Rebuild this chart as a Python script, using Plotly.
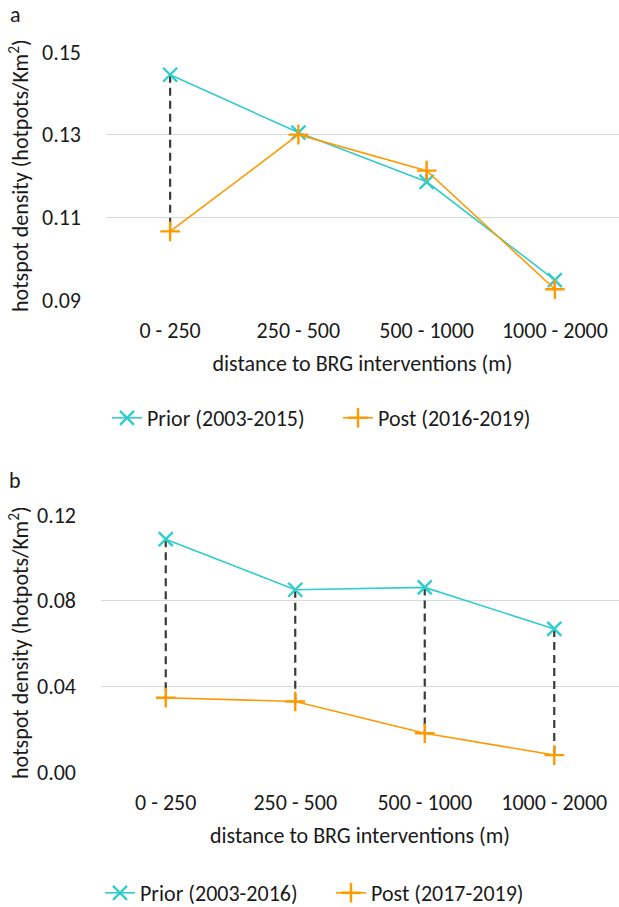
import plotly.graph_objects as go

categories = ["0 - 250", "250 - 500", "500 - 1000", "1000 - 2000"]

a_prior = [0.1445, 0.1305, 0.1186, 0.0948]
a_post = [0.1066, 0.1300, 0.1213, 0.0926]
a_names = ["Prior (2003-2015)", "Post (2016-2019)"]
a_ticks = [0.09, 0.11, 0.13, 0.15]

b_prior = [0.1087, 0.0851, 0.0862, 0.0668]
b_post = [0.0347, 0.0329, 0.0181, 0.0079]
b_names = ["Prior (2003-2016)", "Post (2017-2019)"]
b_ticks = [0.00, 0.04, 0.08, 0.12]

TEAL = "#33CCCC"
ORANGE = "#FF9900"
DASH = "#3a3a3a"
TXT = "#1a1a1a"
FONT = "Carlito, Lato, 'Open Sans', sans-serif"
FS = 22
W, H = 619, 907

fig = go.Figure()


def hilo(prior, post, xa, ya):
    xs, ys = [], []
    for c, p, q in zip(categories, prior, post):
        xs += [c, c, None]
        ys += [p, q, None]
    fig.add_trace(go.Scatter(x=xs, y=ys, mode="lines", xaxis=xa, yaxis=ya,
                             line=dict(color=DASH, width=2.2, dash="8px,5px"),
                             showlegend=False, hoverinfo="skip"))


def series(vals, name, color, symbol, xa, ya, legend):
    fig.add_trace(go.Scatter(x=categories, y=vals, name=name, mode="lines+markers",
                             xaxis=xa, yaxis=ya, legend=legend,
                             line=dict(color=color, width=1.6),
                             marker=dict(symbol=symbol, size=14,
                                         line=dict(color=color, width=2.4), color=color)))


hilo(a_prior, a_post, "x", "y")
series(a_prior, a_names[0], TEAL, "x-thin", "x", "y", "legend")
series(a_post, a_names[1], ORANGE, "cross-thin", "x", "y", "legend")

hilo(b_prior, b_post, "x2", "y2")
series(b_prior, b_names[0], TEAL, "x-thin", "x2", "y2", "legend2")
series(b_post, b_names[1], ORANGE, "cross-thin", "x2", "y2", "legend2")


def py(px):
    return 1 - px / H


axis_font = dict(family=FONT, size=FS, color=TXT)
title_font = dict(family=FONT, size=FS, color=TXT)

xcommon = dict(showgrid=False, showline=False, ticks="", tickfont=axis_font,
               range=[-0.5, 3.5], fixedrange=True, automargin=False, ticklabelstandoff=15,
               title=dict(text="distance to BRG interventions (m)", font=title_font, standoff=12))
ycommon = dict(showgrid=True, gridcolor="#D9D9D9", gridwidth=1.3, zeroline=False,
               showline=False, ticks="", tickfont=axis_font, fixedrange=True,
               automargin=False, ticklabelstandoff=24)

leg_common = dict(orientation="h", xanchor="left", yanchor="middle",
                  font=dict(family=FONT, size=FS, color=TXT), itemwidth=30,
                  entrywidth=186, entrywidthmode="pixels",
                  bgcolor="rgba(0,0,0,0)", traceorder="normal")

fig.update_layout(
    width=W, height=H,
    margin=dict(l=0, r=0, t=0, b=0, autoexpand=False),
    paper_bgcolor="white", plot_bgcolor="white",
    font=dict(family=FONT, size=FS, color=TXT),
    xaxis=dict(domain=[106 / W, 1.0], anchor="y", **xcommon),
    yaxis=dict(domain=[py(300), py(52)], anchor="x", range=[0.09, 0.15],
               tickvals=a_ticks, tickformat=".2f", **ycommon),
    xaxis2=dict(domain=[101 / W, 1.0], anchor="y2", **xcommon),
    yaxis2=dict(domain=[py(772), py(515)], anchor="x2", range=[0.0, 0.12],
                tickvals=b_ticks, tickformat=".2f", **ycommon),
    legend=dict(x=107 / W, y=py(418), **leg_common),
    legend2=dict(x=100 / W, y=py(893), **leg_common),
    annotations=[
        dict(text="a", x=15 / W, y=py(15), xref="paper", yref="paper", showarrow=False,
             xanchor="center", yanchor="middle", font=dict(family=FONT, size=FS, color=TXT)),
        dict(text="b", x=15 / W, y=py(480), xref="paper", yref="paper", showarrow=False,
             xanchor="center", yanchor="middle", font=dict(family=FONT, size=FS, color=TXT)),
        dict(text="hotspot density (hotpots/Km<sup>2</sup>)", x=19 / W, y=py(176),
             xref="paper", yref="paper", showarrow=False, textangle=-90,
             xanchor="center", yanchor="middle", font=title_font),
        dict(text="hotspot density (hotpots/Km<sup>2</sup>)", x=19 / W, y=py(643),
             xref="paper", yref="paper", showarrow=False, textangle=-90,
             xanchor="center", yanchor="middle", font=title_font),
    ],
)

fig.write_html("out.html", config={"displayModeBar": False},
               post_script="document.body.style.margin='0';")
